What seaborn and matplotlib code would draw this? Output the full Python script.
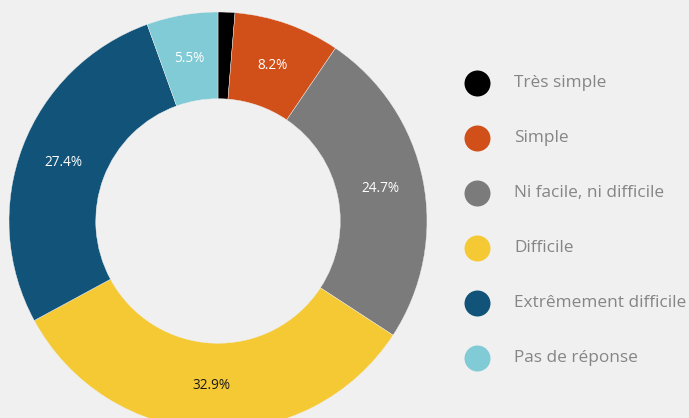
import matplotlib
matplotlib.use("Agg")
import matplotlib.pyplot as plt
import seaborn as sns

categories = ["Très simple", "Simple", "Ni facile, ni difficile", "Difficile",
              "Extrêmement difficile", "Pas de réponse"]
values = [1.3, 8.2, 24.7, 32.9, 27.4, 5.5]
colors = ["#000000", "#d14f18", "#7b7b7b", "#f5c934", "#115379", "#80cbd5"]
label_colors = ["white", "white", "white", "#1a1a1a", "white", "white"]

BG = "#f0f0f0"
sns.set_theme(style="white", palette=sns.color_palette(colors))
plt.rcParams["font.family"] = ["Open Sans", "DejaVu Sans"]

W, H = 689, 418
fig = plt.figure(figsize=(W / 100, H / 100), dpi=100, facecolor=BG)

# pie axes: center (218, 221) px, outer radius 209 px
cx, cy, R = 218, 221, 209
ax = fig.add_axes([(cx - R) / W, (H - cy - R) / H, 2 * R / W, 2 * R / H])
ax.set_facecolor(BG)

def fmt(p):
    return f"{p:.1f}%" if p >= 3 else ""

wedges, texts, autotexts = ax.pie(
    values, colors=sns.color_palette(colors), startangle=90, counterclock=False,
    radius=1.0, pctdistance=0.79, autopct=fmt,
    wedgeprops=dict(width=0.415, edgecolor=BG, linewidth=0.3),
    textprops=dict(fontsize=9.8),
)
for t, c in zip(autotexts, label_colors):
    t.set_color(c)
ax.set_xlim(-1, 1)
ax.set_ylim(-1, 1)
ax.set_aspect("equal")
ax.axis("off")

# legend drawn in pixel coordinates
lax = fig.add_axes([0, 0, 1, 1])
lax.set_xlim(0, W)
lax.set_ylim(H, 0)
lax.axis("off")
lax.patch.set_alpha(0)
y0, dy = 83, 55
for i, (cat, col) in enumerate(zip(categories, colors)):
    y = y0 + i * dy
    lax.scatter([477], [y], s=(26 * 0.72) ** 2, color=col, linewidths=0, zorder=3)
    lax.text(514, y, cat, fontsize=12.4, color="#858585", va="center", ha="left")

fig.savefig("out.png", dpi=100, facecolor=BG)
